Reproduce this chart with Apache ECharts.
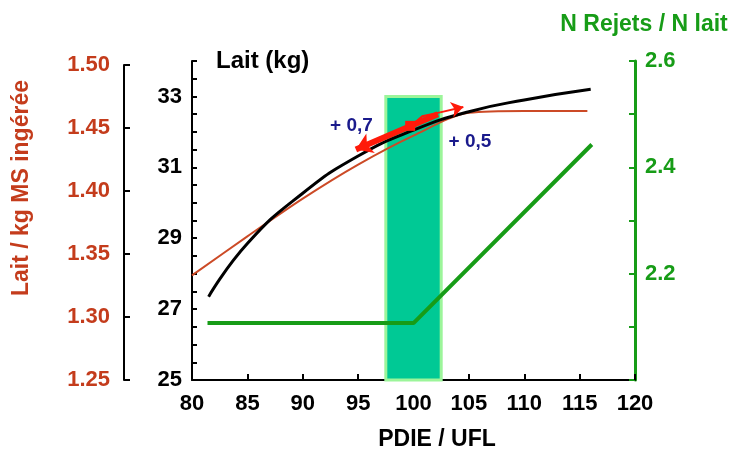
<!DOCTYPE html>
<html>
<head>
<meta charset="utf-8">
<script src="https://cdn.jsdelivr.net/npm/echarts@6/dist/echarts.min.js"></script>
<style>html,body{margin:0;padding:0;background:#fff}#c{width:734px;height:450px}</style>
</head>
<body>
<div id="c"></div>
<script>
// ---- data ----
var blackX = [81.5, 85, 90, 95, 100, 105, 110, 116];
var blackY = [27.35, 28.85, 30.27, 31.32, 32.05, 32.57, 32.9, 33.2];           // Lait (kg)
var redX = [80, 85, 90, 95, 100, 105, 110, 115.7];
var redY = [1.333, 1.364, 1.394, 1.421, 1.444, 1.462, 1.4635, 1.4635];         // Lait / kg MS ingérée
var greenX = [81.4, 100, 116.1];
var greenY = [2.107, 2.107, 2.443];                                            // N Rejets / N lait
var bandX = [97.5, 102.5];
var bandY = [25, 33];
var thickArrow = [[102.2, 32.5], [94.8, 31.5]];
var thinPath = [[99.9, 32.2], [100.8, 32.44], [102.4, 32.55]];
var thinArrow = [[102.4, 32.55], [104.5, 32.7]];
var squarePt = [99.7, 32.17];
var annoText = ['+ 0,7', '+ 0,5'];
var annoPos = [[94.4, 32.18], [105.1, 31.73]];
var xTicks = [80, 120, 5];
var leftTicks = [1.25, 1.50, 0.05];
var midTicks = [25, 34, 0.5];
var rightTicks = [2.0, 2.6, 0.1];

var FONT = 'Liberation Sans';
var RED_TXT = '#c43c1c', RED_LINE = '#cc4a26', GREEN = '#179c17', ARROW = '#ff1a0a', BLUE = '#1a1a8c';

function zip(a, b) { return a.map(function (v, i) { return [v, b[i]]; }); }

var chart = echarts.init(document.getElementById('c'), null, {renderer: 'canvas'});
var lbl = {fontFamily: FONT, fontWeight: 'bold', fontSize: 22};

chart.setOption({
  animation: false,
  backgroundColor: '#fff',
  grid: [
    {left: 192, right: 99, top: 61, bottom: 70, containLabel: false},
    {left: 192, right: 99, top: 65, bottom: 70, containLabel: false}
  ],
  xAxis: [
    {gridIndex: 0, type: 'value', min: xTicks[0], max: xTicks[1], interval: xTicks[2],
     axisLine: {onZero: false, lineStyle: {color: '#000', width: 2}},
     axisTick: {inside: true, length: 6, lineStyle: {color: '#000', width: 2}},
     axisLabel: Object.assign({color: '#000', margin: 13}, lbl),
     splitLine: {show: false}},
    {gridIndex: 1, type: 'value', min: xTicks[0], max: xTicks[1], show: false}
  ],
  yAxis: [
    {gridIndex: 0, type: 'value', position: 'left', min: midTicks[0], max: midTicks[1], interval: midTicks[2],
     axisLine: {show: true, lineStyle: {color: '#000', width: 2}},
     axisTick: {show: true, inside: true, length: 5, lineStyle: {color: '#000', width: 2}},
     axisLabel: Object.assign({color: '#000', margin: 10, formatter: function (v) {
        var k = Math.round(v * 2); return (k % 4 === 2 && v < 33.5) ? String(Math.round(v)) : '';
     }}, lbl),
     splitLine: {show: false}},
    {gridIndex: 0, type: 'value', position: 'right', min: rightTicks[0], max: rightTicks[1], interval: rightTicks[2],
     axisLine: {show: true, lineStyle: {color: GREEN, width: 3}},
     axisTick: {show: true, inside: true, length: 6, lineStyle: {color: GREEN, width: 2}},
     axisLabel: Object.assign({color: GREEN, margin: 10, formatter: function (v) {
        var k = Math.round(v * 10); return (k === 22 || k === 24 || k === 26) ? (k / 10).toFixed(1) : '';
     }}, lbl),
     splitLine: {show: false}},
    {gridIndex: 1, type: 'value', position: 'left', offset: 68, min: leftTicks[0], max: leftTicks[1], interval: leftTicks[2],
     axisLine: {show: true, lineStyle: {color: '#000', width: 2}},
     axisTick: {show: true, inside: true, length: 6, lineStyle: {color: '#000', width: 2}},
     axisLabel: Object.assign({color: RED_TXT, margin: 14, formatter: function (v) { return v.toFixed(2); }}, lbl),
     splitLine: {show: false}}
  ],
  series: [
    {type: 'line', xAxisIndex: 0, yAxisIndex: 0, data: [], silent: true,
     markArea: {silent: true, itemStyle: {color: '#00c995', borderColor: '#9cf59a', borderWidth: 3, opacity: 1},
       data: [[{coord: [bandX[0], bandY[0]]}, {coord: [bandX[1], bandY[1]]}]]}},
    {name: 'N Rejets / N lait', type: 'line', xAxisIndex: 0, yAxisIndex: 1, data: zip(greenX, greenY),
     showSymbol: false, lineStyle: {color: GREEN, width: 4}, z: 3},
    {name: 'Lait / kg MS', type: 'line', xAxisIndex: 1, yAxisIndex: 2, data: zip(redX, redY),
     showSymbol: false, smooth: 0.3, lineStyle: {color: RED_LINE, width: 2}, z: 4},
    {name: 'Lait (kg)', type: 'line', xAxisIndex: 0, yAxisIndex: 0, data: zip(blackX, blackY),
     showSymbol: false, smooth: 0.5, lineStyle: {color: '#000', width: 3}, z: 5},
    {type: 'lines', coordinateSystem: 'cartesian2d', xAxisIndex: 0, yAxisIndex: 0, z: 6,
     symbol: ['none', 'arrow'], symbolSize: 16,
     lineStyle: {color: ARROW, width: 6, opacity: 1},
     data: [{coords: thickArrow}]},
    {type: 'lines', coordinateSystem: 'cartesian2d', xAxisIndex: 0, yAxisIndex: 0, z: 6, polyline: true,
     symbol: 'none',
     lineStyle: {color: ARROW, width: 2, opacity: 1},
     data: [{coords: thinPath}]},
    {type: 'lines', coordinateSystem: 'cartesian2d', xAxisIndex: 0, yAxisIndex: 0, z: 6,
     symbol: ['none', 'arrow'], symbolSize: 12,
     lineStyle: {color: ARROW, width: 2, opacity: 1},
     data: [{coords: thinArrow}]},
    {type: 'scatter', xAxisIndex: 0, yAxisIndex: 0, z: 7, symbol: 'rect', symbolSize: 10,
     itemStyle: {color: ARROW, opacity: 1}, data: [squarePt]},
    {type: 'scatter', xAxisIndex: 0, yAxisIndex: 0, z: 8, symbolSize: 1,
     itemStyle: {color: 'rgba(0,0,0,0)', opacity: 1},
     data: annoPos.map(function (p, i) { return {value: p, name: annoText[i]}; }),
     label: {show: true, position: 'inside', formatter: '{b}', color: BLUE, opacity: 1,
             fontFamily: FONT, fontWeight: 'bold', fontSize: 19}}
  ],
  graphic: [
    {type: 'text', left: 216, top: 49, style: {text: 'Lait (kg)', fill: '#000', font: 'bold 24px "' + FONT + '"'}},
    {type: 'text', x: 22, y: 188, rotation: Math.PI / 2,
     style: {text: 'Lait / kg MS ingérée', fill: RED_TXT, font: 'bold 23px "' + FONT + '"', align: 'center', verticalAlign: 'middle'}},
    {type: 'text', x: 644, y: 25,
     style: {text: 'N Rejets / N lait', fill: GREEN, font: 'bold 23px "' + FONT + '"', align: 'center', verticalAlign: 'middle'}},
    {type: 'text', x: 437, y: 440,
     style: {text: 'PDIE / UFL', fill: '#000', font: 'bold 23px "' + FONT + '"', align: 'center', verticalAlign: 'middle'}}
  ]
});
</script>
</body>
</html>
